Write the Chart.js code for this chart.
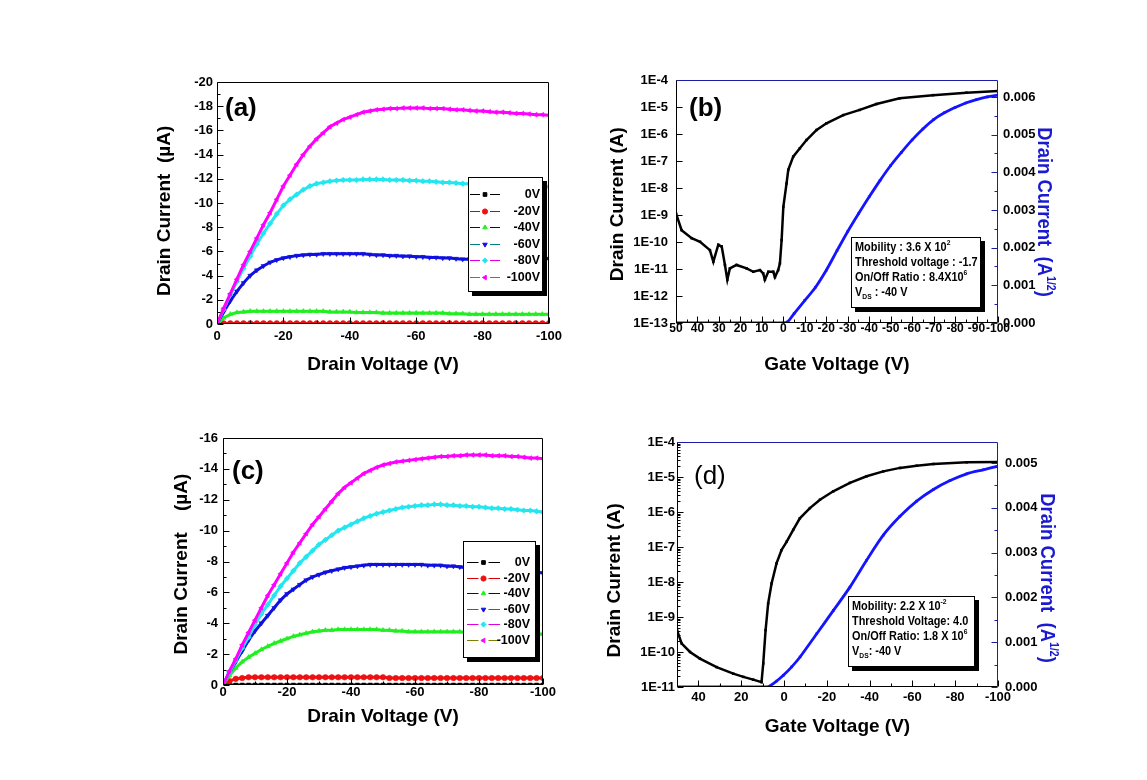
<!DOCTYPE html>
<html><head><meta charset="utf-8">
<script src="https://cdn.jsdelivr.net/npm/chart.js@4/dist/chart.umd.min.js"></script>
<style>
body{margin:0;background:#fff;width:1147px;height:780px;position:relative;overflow:hidden;font-family:'Liberation Sans',Arial,sans-serif}
canvas{position:absolute}
.pl{position:absolute;font:bold 26px 'Liberation Sans',Arial,sans-serif;line-height:28px;color:#000}
.ann{position:absolute;box-sizing:border-box;border:1px solid #000;background:#fff;box-shadow:4px 4px 0 #000;color:#000;overflow:hidden}
.ann .in{position:absolute;left:3px;top:1px;font:bold 13px 'Liberation Sans',Arial,sans-serif;line-height:15px;white-space:nowrap;transform:scaleX(0.84);transform-origin:left top}
.ann sup{font-size:8px;vertical-align:6px;line-height:0}
.ann sub{font-size:8px;vertical-align:-3px;line-height:0}
.rt{position:absolute;transform:translate(-50%,-50%) rotate(90deg) scaleX(0.88);white-space:nowrap;color:#1a1ad0;font:bold 21px 'Liberation Sans',Arial,sans-serif;line-height:1}
.rt sup{font-size:12px;vertical-align:9px;line-height:0}
</style>
</head><body>
<canvas id="ca" width="440" height="330" style="left:140px;top:60px"></canvas>
<canvas id="cb" width="490" height="330" style="left:590px;top:60px"></canvas>
<canvas id="cc" width="440" height="330" style="left:140px;top:420px"></canvas>
<canvas id="cd" width="490" height="330" style="left:590px;top:420px"></canvas>

<div class="pl" style="left:225px;top:93px">(a)</div>
<div class="pl" style="left:689px;top:93px">(b)</div>
<div class="pl" style="left:232px;top:456px">(c)</div>
<div class="pl" style="left:694px;top:461px;font-weight:normal">(d)</div>

<div class="ann" style="left:851px;top:237px;width:130px;height:71px"><div class="in">Mobility : 3.6 X 10<sup>2</sup><br>Threshold voltage : -1.7<br>On/Off Ratio : 8.4X10<sup>6</sup><br>V<sub>DS</sub> : -40 V</div></div>
<div class="ann" style="left:848px;top:596px;width:127px;height:71px"><div class="in">Mobility: 2.2 X 10<sup>-2</sup><br>Threshold Voltage: 4.0<br>On/Off Ratio: 1.8 X 10<sup>6</sup><br>V<sub>DS</sub>: -40 V</div></div>

<div class="rt" style="left:1045px;top:212px">Drain Current&nbsp;&nbsp;(A<sup>1/2</sup>)</div>
<div class="rt" style="left:1048px;top:578px">Drain Current&nbsp;&nbsp;(A<sup>1/2</sup>)</div>

<script>
// ---------- data ----------
const VD = [0,-2,-4,-6,-8,-10,-12,-14,-16,-18,-20,-22,-24,-26,-28,-30,-32,-34,-36,-38,-40,-42,-44,-46,-48,-50,-52,-54,-56,-58,-60,-62,-64,-66,-68,-70,-72,-74,-76,-78,-80,-82,-84,-86,-88,-90,-92,-94,-96,-98,-100];
const SERIES_LABELS = ['0V','-20V','-40V','-60V','-80V','-100V'];

// panel (a), drain current in uA
const A_0V   = [0,0,0,0,0,0,0,0,0,0,0,0,0,0,0,0,0,0,0,0,0,0,0,0,0,0,0,0,0,0,0,0,0,0,0,0,0,0,0,0,0,0,0,0,0,0,0,0,0,0,0];
const A_M20  = [0,-0.05,-0.05,-0.05,-0.05,-0.05,-0.05,-0.05,-0.05,-0.05,-0.05,-0.05,-0.05,-0.05,-0.05,-0.05,-0.05,-0.05,-0.05,-0.05,-0.05,-0.05,-0.05,-0.05,-0.05,-0.05,-0.05,-0.05,-0.05,-0.05,-0.05,-0.05,-0.05,-0.05,-0.05,-0.05,-0.05,-0.05,-0.05,-0.05,-0.05,-0.05,-0.05,-0.05,-0.05,-0.05,-0.05,-0.05,-0.05,-0.05,-0.05];
const A_M40  = [0,-0.5,-0.8,-0.95,-1.0,-1.05,-1.05,-1.05,-1.05,-1.05,-1.05,-1.05,-1.05,-1.05,-1.05,-1.05,-1.05,-1.0,-1.0,-1.0,-1.0,-0.95,-0.95,-0.95,-0.95,-0.9,-0.9,-0.9,-0.9,-0.9,-0.9,-0.9,-0.9,-0.9,-0.9,-0.85,-0.85,-0.85,-0.8,-0.8,-0.8,-0.8,-0.8,-0.8,-0.8,-0.8,-0.8,-0.8,-0.8,-0.8,-0.8];
const A_M60  = [0,-1.0,-1.9,-2.7,-3.4,-4.0,-4.45,-4.8,-5.1,-5.3,-5.45,-5.55,-5.65,-5.7,-5.75,-5.75,-5.8,-5.8,-5.8,-5.8,-5.8,-5.8,-5.8,-5.75,-5.7,-5.7,-5.65,-5.65,-5.6,-5.6,-5.55,-5.55,-5.5,-5.5,-5.45,-5.45,-5.4,-5.35,-5.35,-5.4,-5.4,-5.4,-5.4,-5.4,-5.4,-5.4,-5.4,-5.4,-5.4,-5.4,-5.4];
const A_M80  = [0,-1.2,-2.4,-3.5,-4.6,-5.6,-6.6,-7.5,-8.3,-9.1,-9.8,-10.3,-10.7,-11.1,-11.4,-11.6,-11.7,-11.8,-11.85,-11.9,-11.9,-11.9,-11.95,-11.95,-11.95,-11.95,-11.9,-11.9,-11.9,-11.85,-11.85,-11.8,-11.8,-11.75,-11.7,-11.7,-11.65,-11.6,-11.6,-11.55,-11.55,-11.5,-11.5,-11.5,-11.45,-11.45,-11.4,-11.4,-11.4,-11.35,-11.35];
const A_M100 = [0,-1.3,-2.5,-3.7,-4.9,-6.0,-7.1,-8.2,-9.2,-10.3,-11.4,-12.3,-13.2,-14.0,-14.7,-15.3,-15.8,-16.3,-16.6,-16.9,-17.1,-17.3,-17.5,-17.6,-17.7,-17.75,-17.8,-17.8,-17.85,-17.85,-17.85,-17.85,-17.8,-17.8,-17.8,-17.75,-17.7,-17.7,-17.65,-17.6,-17.6,-17.55,-17.5,-17.5,-17.45,-17.4,-17.4,-17.35,-17.3,-17.3,-17.25];

// panel (c), drain current in uA
const C_0V   = [0,0,0,0,0,0,0,0,0,0,0,0,0,0,0,0,0,0,0,0,0,0,0,0,0,0,0,0,0,0,0,0,0,0,0,0,0,0,0,0,0,0,0,0,0,0,0,0,0,0,0];
const C_M20  = [0,-0.25,-0.4,-0.45,-0.5,-0.5,-0.5,-0.5,-0.5,-0.5,-0.5,-0.5,-0.5,-0.5,-0.5,-0.5,-0.5,-0.5,-0.5,-0.5,-0.5,-0.5,-0.5,-0.5,-0.5,-0.5,-0.45,-0.45,-0.45,-0.45,-0.45,-0.45,-0.45,-0.45,-0.45,-0.45,-0.45,-0.45,-0.45,-0.45,-0.45,-0.45,-0.45,-0.45,-0.45,-0.45,-0.45,-0.45,-0.45,-0.45,-0.45];
const C_M40  = [0,-0.6,-1.1,-1.5,-1.8,-2.05,-2.3,-2.5,-2.7,-2.85,-3.0,-3.15,-3.25,-3.35,-3.45,-3.5,-3.55,-3.55,-3.6,-3.6,-3.6,-3.6,-3.6,-3.6,-3.6,-3.55,-3.55,-3.5,-3.5,-3.45,-3.45,-3.45,-3.45,-3.45,-3.45,-3.45,-3.45,-3.45,-3.4,-3.4,-3.4,-3.4,-3.4,-3.4,-3.4,-3.35,-3.35,-3.35,-3.3,-3.3,-3.3];
const C_M60  = [0,-0.8,-1.5,-2.2,-2.9,-3.5,-4.0,-4.5,-5.0,-5.5,-5.9,-6.2,-6.5,-6.8,-7.0,-7.15,-7.3,-7.4,-7.5,-7.6,-7.65,-7.7,-7.75,-7.8,-7.8,-7.8,-7.8,-7.8,-7.8,-7.8,-7.8,-7.8,-7.75,-7.75,-7.75,-7.7,-7.7,-7.65,-7.6,-7.6,-7.55,-7.5,-7.5,-7.45,-7.45,-7.4,-7.4,-7.35,-7.3,-7.3,-7.25];
const C_M80  = [0,-0.8,-1.6,-2.4,-3.1,-3.9,-4.6,-5.2,-5.8,-6.4,-6.9,-7.4,-7.9,-8.3,-8.7,-9.1,-9.4,-9.7,-10.0,-10.2,-10.4,-10.6,-10.8,-10.95,-11.1,-11.2,-11.3,-11.4,-11.5,-11.55,-11.6,-11.65,-11.65,-11.7,-11.7,-11.65,-11.65,-11.6,-11.6,-11.55,-11.55,-11.5,-11.45,-11.45,-11.4,-11.4,-11.35,-11.3,-11.3,-11.25,-11.2];
const C_M100 = [0,-0.9,-1.7,-2.6,-3.4,-4.2,-5.0,-5.8,-6.5,-7.2,-7.9,-8.6,-9.2,-9.8,-10.4,-10.9,-11.4,-11.9,-12.4,-12.8,-13.1,-13.4,-13.7,-13.9,-14.1,-14.25,-14.35,-14.45,-14.5,-14.55,-14.6,-14.65,-14.7,-14.75,-14.8,-14.8,-14.85,-14.85,-14.9,-14.9,-14.9,-14.9,-14.85,-14.85,-14.85,-14.8,-14.8,-14.75,-14.7,-14.7,-14.65];

// panel (b)
const B_VG_LOG = [50,47.4,42.7,38.8,34.2,32.6,30.3,28.7,27.2,26.1,24.9,21.8,17.1,14.0,10.9,9.4,8.6,7.0,4.7,3.9,2.4,1.6,0.8,0.0,-1.5,-2.3,-4.6,-7.7,-10.8,-15.5,-20.1,-27.9,-35.6,-43.4,-54.2,-69.7,-85.3,-100];
const B_ID_LOG = [1.15e-9,2.75e-10,1.38e-10,1.02e-10,5.0e-11,1.86e-11,7.9e-11,6.8e-11,1.41e-11,4.0e-12,1.05e-11,1.41e-11,1.05e-11,7.9e-12,9.1e-12,6.9e-12,4.0e-12,7.9e-12,7.9e-12,5.0e-12,9.1e-12,1.6e-11,1.17e-10,2.0e-9,1.48e-8,4.7e-8,1.45e-7,2.95e-7,6.0e-7,1.41e-6,2.5e-6,5.0e-6,7.8e-6,1.29e-5,2.1e-5,2.75e-5,3.4e-5,3.9e-5];
const B_VG_SQRT = [50,40,30,20,10,0,-2,-5,-10,-15,-20,-25,-30,-35,-40,-45,-50,-55,-60,-65,-70,-75,-80,-85,-90,-95,-100];
const B_SQRT = [0,0,0,0,0,0,0.00003,0.00025,0.0006,0.00095,0.0014,0.00192,0.00243,0.0029,0.00335,0.00378,0.00418,0.00453,0.00486,0.00515,0.0054,0.00558,0.00572,0.00584,0.00593,0.006,0.00605];

// panel (d)
const D_VG_LOG = [50,47.8,43.9,39.3,31.5,23.7,19.0,14.4,10.5,9.7,8.6,7.4,5.8,3.5,1.2,-1.2,-4.3,-7.4,-12.1,-16.8,-23.0,-30.8,-38.6,-46.4,-54.2,-62.0,-69.8,-85.4,-100];
const D_ID_LOG = [4.2e-10,1.74e-10,1.0e-10,6.5e-11,3.7e-11,2.4e-11,1.95e-11,1.62e-11,1.38e-11,4.7e-11,4.2e-10,2.45e-9,9.1e-9,3.4e-8,8.1e-8,1.41e-7,3.1e-7,6.6e-7,1.29e-6,2.24e-6,3.9e-6,6.8e-6,1.05e-5,1.45e-5,1.82e-5,2.1e-5,2.35e-5,2.63e-5,2.7e-5];
const D_VG_SQRT = [50,40,30,20,10,7.5,3.4,0.3,-3.6,-7.5,-15.3,-23.1,-30.8,-38.6,-46.4,-54.2,-62.0,-69.8,-77.6,-85.4,-93.1,-100];
const D_SQRT = [0,0,0,0,0,0,0.000134,0.00026,0.00045,0.00067,0.00119,0.00171,0.00223,0.00283,0.00339,0.00381,0.00415,0.00441,0.00461,0.00476,0.00485,0.00493];

// tick labels
const A_X_TICKS = [0,-20,-40,-60,-80,-100];
const A_Y_TICKS = [0,-2,-4,-6,-8,-10,-12,-14,-16,-18,-20];
const C_X_TICKS = [0,-20,-40,-60,-80,-100];
const C_Y_TICKS = [0,-2,-4,-6,-8,-10,-12,-14,-16];
const B_X_TICKS = [50,40,30,20,10,0,-10,-20,-30,-40,-50,-60,-70,-80,-90,-100];
const B_LOG_TICKS = [1e-13,1e-12,1e-11,1e-10,1e-9,1e-8,1e-7,1e-6,1e-5,1e-4];
const B_R_TICKS = [0,0.001,0.002,0.003,0.004,0.005,0.006];
const D_X_TICKS = [40,20,0,-20,-40,-60,-80,-100];
const D_LOG_TICKS = [1e-11,1e-10,1e-9,1e-8,1e-7,1e-6,1e-5,1e-4];
const D_R_TICKS = [0,0.001,0.002,0.003,0.004,0.005];

// ---------- styling ----------
const FONT = "'Liberation Sans',Arial,sans-serif";
Chart.defaults.font.family = FONT;
Chart.defaults.font.weight = 'bold';
Chart.defaults.font.size = 13;
Chart.defaults.color = '#000';

const MARKER_COLORS = ['#000000','#ee1111','#22ee22','#1010e0','#22e6f0','#ff00ff'];
const LEGEND_LINE_COLORS = ['#000000','#dd0000','#0000aa','#008080','#dd00dd','#808000'];
const MARKER_STYLES = ['rect','circle','triangle','triangle','rectRot','triangle'];
const MARKER_ROT = [0,0,0,180,0,270];
const AXIS_BLUE = '#1c1ca8';
const CURVE_BLUE = '#1414ff';

const originFrame = {
  id:'originFrame',
  afterDatasetsDraw(chart, args, o){
    const ctx = chart.ctx, a = chart.chartArea;
    const L=Math.round(a.left)+0.5, R=Math.round(a.right)-0.5, T=Math.round(a.top)+0.5, B=Math.round(a.bottom)-0.5;
    ctx.save(); ctx.lineWidth=1;
    const seg=(x1,y1,x2,y2,c)=>{ctx.strokeStyle=c;ctx.beginPath();ctx.moveTo(x1,y1);ctx.lineTo(x2,y2);ctx.stroke();};
    const majors = s => s.ticks.map(t=>t.value).sort((p,q)=>p-q);
    const mids = v => { const r=[]; for(let i=0;i+1<v.length;i++) r.push((v[i]+v[i+1])/2); return r; };
    const logMinors = s => { const r=[]; const e0=Math.floor(Math.log10(s.min)), e1=Math.ceil(Math.log10(s.max)); for(let e=e0;e<e1;e++) for(let k=2;k<10;k++){const v=k*Math.pow(10,e); if(v>s.min&&v<s.max) r.push(v);} return r; };
    const xs = chart.scales.x;
    majors(xs).forEach(v=>{const p=Math.round(xs.getPixelForValue(v))+0.5; seg(p,B,p,B-6,'#000');});
    mids(majors(xs)).forEach(v=>{const p=Math.round(xs.getPixelForValue(v))+0.5; seg(p,B,p,B-3,'#000');});
    const ys = chart.scales.y;
    majors(ys).forEach(v=>{const p=Math.round(ys.getPixelForValue(v))+0.5; seg(L,p,L+6,p,'#000');});
    const ymin = ys.type==='logarithmic' ? (o.logMinor ? logMinors(ys) : []) : mids(majors(ys));
    ymin.forEach(v=>{const p=Math.round(ys.getPixelForValue(v))+0.5; seg(L,p,L+3,p,'#000');});
    const y2 = chart.scales.y2;
    if (y2){
      majors(y2).forEach(v=>{const p=Math.round(y2.getPixelForValue(v))+0.5; seg(R,p,R-6,p,o.rightColor);});
      mids(majors(y2)).forEach(v=>{const p=Math.round(y2.getPixelForValue(v))+0.5; seg(R,p,R-3,p,o.rightColor);});
    }
    seg(L,T,R,T,o.topColor||'#000');
    seg(R,T,R,B,o.rightColor||'#000');
    seg(L,T,L,B,'#000');
    seg(L,B,R,B,'#000');
    ctx.restore();
  }
};

const originLegend = {
  id:'originLegend',
  afterDraw(chart, args, o){
    if(!o || !o.box) return;
    const ctx=chart.ctx; const [x1,y1,x2,y2]=o.box;
    ctx.save();
    ctx.fillStyle='#000'; ctx.fillRect(x1+4,y1+4,x2-x1,y2-y1);
    ctx.fillStyle='#fff'; ctx.fillRect(x1,y1,x2-x1,y2-y1);
    ctx.strokeStyle='#000'; ctx.lineWidth=1; ctx.strokeRect(x1+0.5,y1+0.5,x2-x1-1,y2-y1-1);
    chart.data.datasets.forEach((ds,i)=>{
      const y=Math.round(o.rowY0+i*o.rowDy)+0.5;
      ctx.strokeStyle=o.lineColors[i]; ctx.lineWidth=1;
      ctx.beginPath(); ctx.moveTo(o.lineX[0],y); ctx.lineTo(o.mx-5,y); ctx.moveTo(o.mx+5,y); ctx.lineTo(o.lineX[1],y); ctx.stroke();
      ctx.fillStyle=ds.pointBackgroundColor; ctx.strokeStyle=ds.pointBorderColor;
      Chart.helpers.drawPoint(ctx,{pointStyle:ds.pointStyle,rotation:ds.pointRotation||0,radius:2.6,borderWidth:0.5},o.mx,y);
      ctx.fillStyle='#000'; ctx.font='bold 12.5px '+FONT; ctx.textAlign='right'; ctx.textBaseline='middle';
      ctx.fillText(ds.label,o.textRight,y);
    });
    ctx.restore();
  }
};
Chart.register(originFrame, originLegend);

function outputSets(list){
  return list.map((ys,i)=>({
    label: SERIES_LABELS[i],
    data: VD.map((v,j)=>({x:v,y:ys[j]})),
    borderColor: MARKER_COLORS[i], borderWidth: 3,
    pointStyle: MARKER_STYLES[i], pointRotation: MARKER_ROT[i], pointRadius: 2.8,
    pointBackgroundColor: MARKER_COLORS[i], pointBorderColor: MARKER_COLORS[i], pointBorderWidth: 0.5,
    order: 5-i, tension: 0
  }));
}
const setTicks = arr => s => { s.ticks = arr.map(v=>({value:v})); };
const noGrid = {display:false, drawTicks:false};
const TITLE_FONT = {size:19, weight:'bold'};

function outputChart(id, sets, o){
  return new Chart(document.getElementById(id), {
    type:'line',
    data:{datasets: outputSets(sets)},
    options:{
      responsive:false, animation:false, events:[],
      layout:{padding:o.pad},
      plugins:{legend:{display:false}, tooltip:{enabled:false},
        originFrame:{topColor:'#000', rightColor:'#000'},
        originLegend:o.legend},
      scales:{
        x:{type:'linear', min:-100, max:0, reverse:true,
           afterBuildTicks:setTicks(o.xticks), afterFit:s=>{s.height=o.xh;},
           grid:noGrid, border:{display:false},
           ticks:{padding:o.xpad, maxRotation:0, minRotation:0, autoSkip:false},
           title:{display:true, text:'Drain Voltage (V)', font:TITLE_FONT, padding:{top:0,bottom:o.xtp}}},
        y:{type:'linear', min:o.ymin, max:0, reverse:true,
           afterBuildTicks:setTicks(o.yticks), afterFit:s=>{s.width=o.yw;},
           grid:noGrid, border:{display:false},
           ticks:{padding:o.ypad, autoSkip:false},
           title:{display:true, text:o.ytitle, font:TITLE_FONT, padding:{top:o.ytp,bottom:0}}}
      }
    }
  });
}

outputChart('ca', [A_0V,A_M20,A_M40,A_M60,A_M80,A_M100], {
  pad:{left:0,top:22,right:31,bottom:0}, xticks:A_X_TICKS, yticks:A_Y_TICKS, ymin:-20,
  xh:66, yw:77, xpad:4.5, ypad:4, xtp:13.6, ytp:13.6, ytitle:'Drain Current  (µA)   ',
  legend:{box:[328,117,403,232], rowY0:134, rowDy:16.5, lineX:[330,360], mx:345, textRight:400, lineColors:LEGEND_LINE_COLORS}
});
outputChart('cc', [C_0V,C_M20,C_M40,C_M60,C_M80,C_M100], {
  pad:{left:0,top:18,right:37,bottom:0}, xticks:C_X_TICKS, yticks:C_Y_TICKS, ymin:-16,
  xh:65, yw:83, xpad:-0.5, ypad:5, xtp:21.6, ytp:30.6, ytitle:'Drain Current    (µA) ',
  legend:{box:[323,121,396,238], rowY0:142, rowDy:15.5, lineX:[327,360], mx:343.5, textRight:390, lineColors:LEGEND_LINE_COLORS}
});

function transferChart(id, o){
  return new Chart(document.getElementById(id), {
    type:'line',
    data:{datasets:[
      {label:'log', yAxisID:'y', data:o.vgLog.map((v,i)=>({x:v,y:o.idLog[i]})),
       borderColor:'#000', borderWidth:2.5, pointStyle:'rect', pointRadius:1.8,
       pointBackgroundColor:'#000', pointBorderWidth:0, tension:0, order:0},
      {label:'sqrt', yAxisID:'y2', data:o.vgSqrt.map((v,i)=>({x:v,y:o.sqrt[i]})),
       borderColor:CURVE_BLUE, borderWidth:2.8, pointStyle:'rect', pointRadius:1.8,
       pointBackgroundColor:CURVE_BLUE, pointBorderWidth:0, tension:0.3, order:1}
    ]},
    options:{
      responsive:false, animation:false, events:[],
      layout:{padding:o.pad},
      plugins:{legend:{display:false}, tooltip:{enabled:false},
        originFrame:{topColor:AXIS_BLUE, rightColor:AXIS_BLUE, logMinor:o.logMinor}},
      scales:{
        x:{type:'linear', min:-100, max:50, reverse:true,
           afterBuildTicks:setTicks(o.xticks), afterFit:s=>{s.height=o.xh;},
           grid:noGrid, border:{display:false},
           ticks:{padding:o.xpad, maxRotation:0, minRotation:0, autoSkip:false, font:{size:o.xfs}},
           title:{display:true, text:'Gate Voltage (V)', font:TITLE_FONT, padding:{top:0,bottom:o.xtp}}},
        y:{type:'logarithmic', position:'left', min:o.logMin, max:1e-4,
           afterBuildTicks:setTicks(o.logTicks), afterFit:s=>{s.width=o.yw;},
           grid:noGrid, border:{display:false},
           ticks:{padding:o.ypad, autoSkip:false, callback:v=>'1E'+Math.round(Math.log10(v))},
           title:{display:true, text:o.ytitle, font:TITLE_FONT, padding:{top:o.ytp,bottom:0}}},
        y2:{type:'linear', position:'right', min:0, max:o.rMax,
           afterBuildTicks:setTicks(o.rTicks), afterFit:s=>{s.width=82;},
           grid:noGrid, border:{display:false},
           ticks:{padding:o.rpad, autoSkip:false, callback:v=>Number(v).toFixed(3)}}
      }
    }
  });
}

transferChart('cb', {
  vgLog:B_VG_LOG, idLog:B_ID_LOG, vgSqrt:B_VG_SQRT, sqrt:B_SQRT,
  pad:{left:0,top:20,right:0,bottom:0}, xticks:B_X_TICKS, logTicks:B_LOG_TICKS, rTicks:B_R_TICKS,
  logMin:1e-13, rMax:0.00645, xh:67, yw:86, xpad:-2, xfs:12, ypad:8, rpad:5, xtp:13.6, ytp:16.6, logMinor:false,
  ytitle:'Drain Current (A) '
});
transferChart('cd', {
  vgLog:D_VG_LOG, idLog:D_ID_LOG, vgSqrt:D_VG_SQRT, sqrt:D_SQRT,
  pad:{left:0,top:22,right:0,bottom:0}, xticks:D_X_TICKS, logTicks:D_LOG_TICKS, rTicks:D_R_TICKS,
  logMin:1e-11, rMax:0.00547, xh:63, yw:87, xpad:3, xfs:13, ypad:2, rpad:7, xtp:11.6, ytp:13.6, logMinor:true,
  ytitle:'Drain Current (A)      '
});
</script>
</body></html>
